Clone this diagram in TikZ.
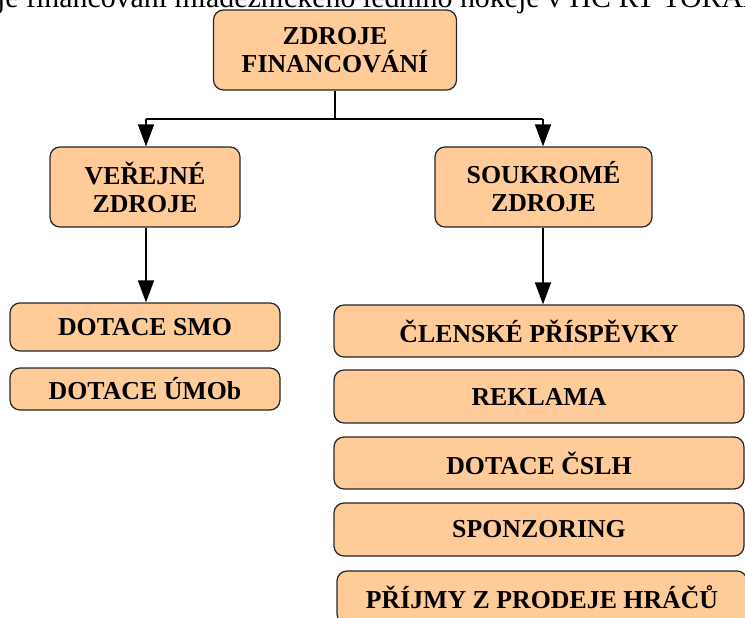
\documentclass[tikz,border=0pt]{standalone}
\usepackage{fontspec}
\setmainfont{Liberation Serif}
\usetikzlibrary{arrows.meta}
\definecolor{boxorange}{HTML}{FFCC99}
\begin{document}
\begin{tikzpicture}[
    srcbox/.style={draw=black!85, line width=0.7pt, fill=boxorange,
        rounded corners=0.2cm, inner sep=0pt, align=center,
        font=\fontsize{14.7}{15.9}\selectfont\bfseries},
    link/.style={line width=0.8pt},
    arr/.style={line width=0.8pt, -{Triangle[width=0.32cm,length=0.44cm]}}]
    \useasboundingbox (0,0) rectangle (14.9,-12.34);
    \clip (0,0) rectangle (14.9,-12.34);
    % caption line, cut at the top edge
    \node[anchor=base east, inner sep=0pt, font=\fontsize{17}{18}\selectfont]
        (cap) at (15.3,-0.14) {Zdroje financování mládežnického ledního hokeje v HC RT TORAX};
    % upper level
    \node[srcbox, minimum width=4.86cm, minimum height=1.6cm] (zdroje) at (6.70,-1.00)
        {ZDROJE\\FINANCOVÁNÍ};
    \node[srcbox, minimum width=3.8cm, minimum height=1.6cm] (verejne) at (2.90,-3.74)
        {VEŘEJNÉ\\ZDROJE};
    \node[srcbox, minimum width=4.34cm, minimum height=1.6cm] (soukrome) at (10.87,-3.74)
        {SOUKROMÉ\\ZDROJE};
    \coordinate (split) at (6.70,-2.38);
    \coordinate (splitL) at (2.92,-2.38);
    \coordinate (splitR) at (10.86,-2.38);
    \draw[link] (zdroje.south) -- (split);
    \draw[link] (splitL) -- (splitR);
    \draw[arr] (splitL) -- (splitL |- verejne.north);
    \draw[arr] (splitR) -- (splitR |- soukrome.north);
    % public sources
    \node[srcbox, minimum width=5.4cm, minimum height=0.96cm] (smo) at (2.90,-6.54) {DOTACE SMO};
    \node[srcbox, minimum width=5.4cm, minimum height=0.84cm] (umob) at (2.90,-7.78) {DOTACE ÚMOb};
    \draw[arr] (verejne.south -| splitL) -- (splitL |- smo.north);
    % private sources
    \node[srcbox, minimum width=8.2cm, minimum height=1.04cm] (clenske) at (10.78,-6.62) {ČLENSKÉ PŘÍSPĚVKY};
    \node[srcbox, minimum width=8.2cm, minimum height=1.06cm] (reklama) at (10.78,-7.93) {REKLAMA};
    \node[srcbox, minimum width=8.2cm, minimum height=1.04cm] (cslh) at (10.78,-9.26) {DOTACE ČSLH};
    \node[srcbox, minimum width=8.2cm, minimum height=1.06cm] (sponzoring) at (10.78,-10.59) {SPONZORING};
    \node[srcbox, minimum width=8.2cm, minimum height=1.06cm] (prijmy) at (10.84,-11.95) {PŘÍJMY Z PRODEJE HRÁČŮ};
    \draw[arr] (soukrome.south -| splitR) -- (splitR |- clenske.north);
\end{tikzpicture}
\end{document}
